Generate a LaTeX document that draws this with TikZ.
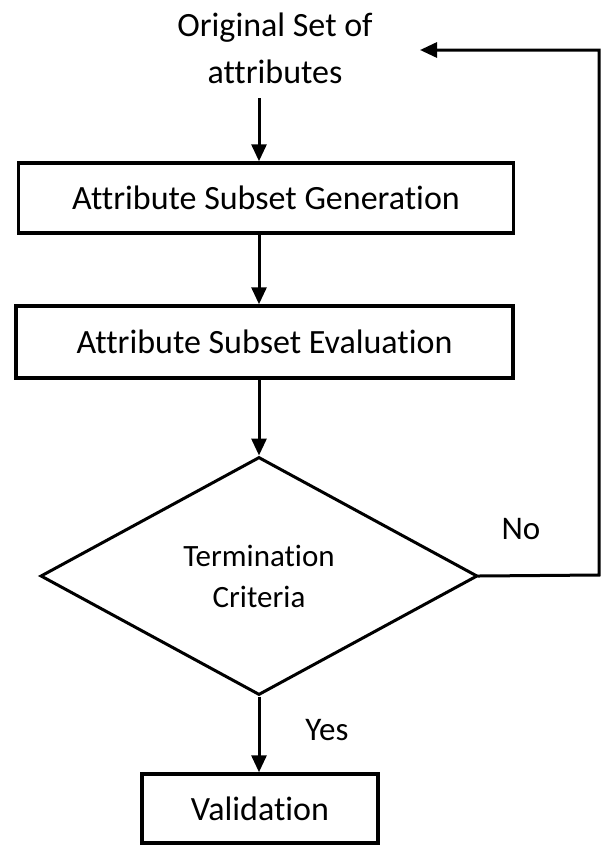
\documentclass[tikz,border=0pt]{standalone}
\usepackage{fontspec}
\setmainfont{Carlito}[RawFeature={-liga;-clig}]
\usetikzlibrary{shapes.geometric,arrows.meta}
\begin{document}
\begin{tikzpicture}[x=1pt,y=-1pt,
  boxnode/.style={draw=black,line width=3.5pt,rectangle,inner sep=0pt,font=\fontsize{34}{40}\selectfont},
  decnode/.style={draw=black,line width=3pt,diamond,inner sep=0pt,minimum width=437pt,minimum height=238pt,align=center,font=\fontsize{31}{41}\selectfont},
  lbl/.style={inner sep=0pt,font=\fontsize{33}{40}\selectfont},
  flow/.style={line width=3pt,-{Triangle[length=17pt,width=15pt]}}]
\useasboundingbox (0,0) rectangle (601,846);
\node[lbl,align=center,font=\fontsize{34}{47}\selectfont] (orig) at (275,48) {Original Set of\\attributes};
\node[boxnode,minimum width=495pt,minimum height=70pt] (gen) at (266,198) {Attribute Subset Generation};
\node[boxnode,minimum width=497pt,minimum height=72pt] (eval) at (264.5,342) {Attribute Subset Evaluation};
\node[decnode] (term) at (259,576) {Termination\\Criteria};
\node[boxnode,minimum width=236pt,minimum height=69pt] (val) at (260,808.5) {Validation};
\node[lbl] (no) at (521,529) {No};
\node[lbl] (yes) at (327,730) {Yes};
\coordinate (a1) at (259,98);
\coordinate (c1) at (599,575);
\coordinate (ret) at (420,50);
\draw[flow] (a1) -- (a1 |- gen.north);
\draw[flow] (a1 |- gen.south) -- (a1 |- eval.north);
\draw[flow] (a1 |- eval.south) -- (term.north);
\draw[flow] (term.south) -- (term.south |- val.north);
\draw[flow,line cap=rect] (term.east) -- (c1) |- (ret);
\end{tikzpicture}
\end{document}
